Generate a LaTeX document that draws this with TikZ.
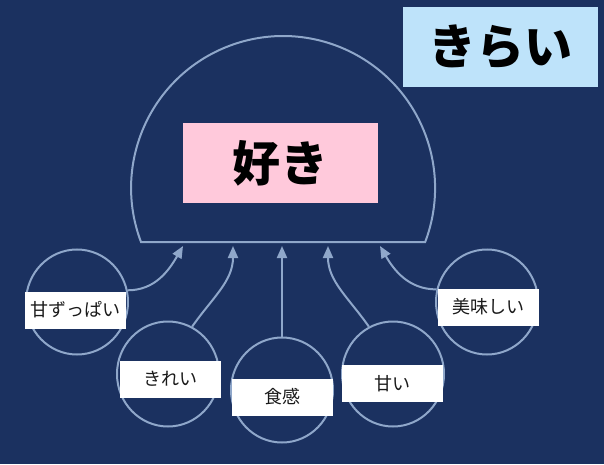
\documentclass[tikz,border=0pt]{standalone}
\usepackage{fontspec}
\newfontfamily\cjk{Noto Sans CJK JP}
\usetikzlibrary{shapes.geometric,arrows.meta}
\definecolor{bg}{HTML}{1B3160}
\definecolor{edge}{HTML}{8FA7CA}
\definecolor{pinkbox}{HTML}{FFC9DB}
\definecolor{bluebox}{HTML}{BEE3FA}
\definecolor{ink}{HTML}{1A1A1A}
\begin{document}
\begin{tikzpicture}[x=1pt,y=1pt,
  ring/.style={draw=edge, line width=2pt, ellipse, minimum width=102pt, minimum height=105pt, inner sep=0pt},
  tag/.style={fill=white, minimum width=101pt, minimum height=37pt, inner sep=0pt, font=\cjk\fontsize{18}{21}\selectfont, text=ink},
  bigbox/.style={minimum width=195pt, minimum height=80pt, inner sep=0pt, font=\cjk\bfseries\fontsize{48}{52}\selectfont, text=black},
  link/.style={draw=edge, line width=2pt, -{Triangle[width=10pt,length=12pt]}},
]
\fill[bg] (0,0) rectangle (604,464);
\useasboundingbox (0,0) rectangle (604,464);
% dome
\draw[edge, line width=2pt] (141,222) arc[start angle=200.8, end angle=-20.8, radius=152] -- cycle;
\node[bigbox, fill=pinkbox] (like) at (280.5,301) {好き};
\node[bigbox, fill=bluebox] (dislike) at (500,417) {きらい};
% target points on the dome base
\coordinate (t1) at (183,218);
\coordinate (t2) at (233,218);
\coordinate (t3) at (282,218);
\coordinate (t4) at (328,218);
\coordinate (t5) at (380,218);
% circles
\node[ring] (c1) at (77,162) {};
\node[ring] (c2) at (168,90) {};
\node[ring] (c3) at (282,74) {};
\node[ring] (c4) at (393,90) {};
\node[ring] (c5) at (487,162) {};
% labels
\node[tag] (l1) at (75.5,154) {甘ずっぱい};
\node[tag] (l2) at (170,85) {きれい};
\node[tag] (l3) at (282.5,67) {食感};
\node[tag] (l4) at (392.5,80.5) {甘い};
\node[tag] (l5) at (488,157) {美味しい};
% arrows
\draw[link] (c1.13) to[out=0, in=240] (t1);
\draw[link] (c2.63) to[out=55, in=-90] (t2);
\draw[link] (c3.north) -- (t3);
\draw[link] (c4.117) to[out=125, in=-90] (t4);
\draw[link] (c5.166) to[out=180, in=-60] (t5);
\end{tikzpicture}
\end{document}
